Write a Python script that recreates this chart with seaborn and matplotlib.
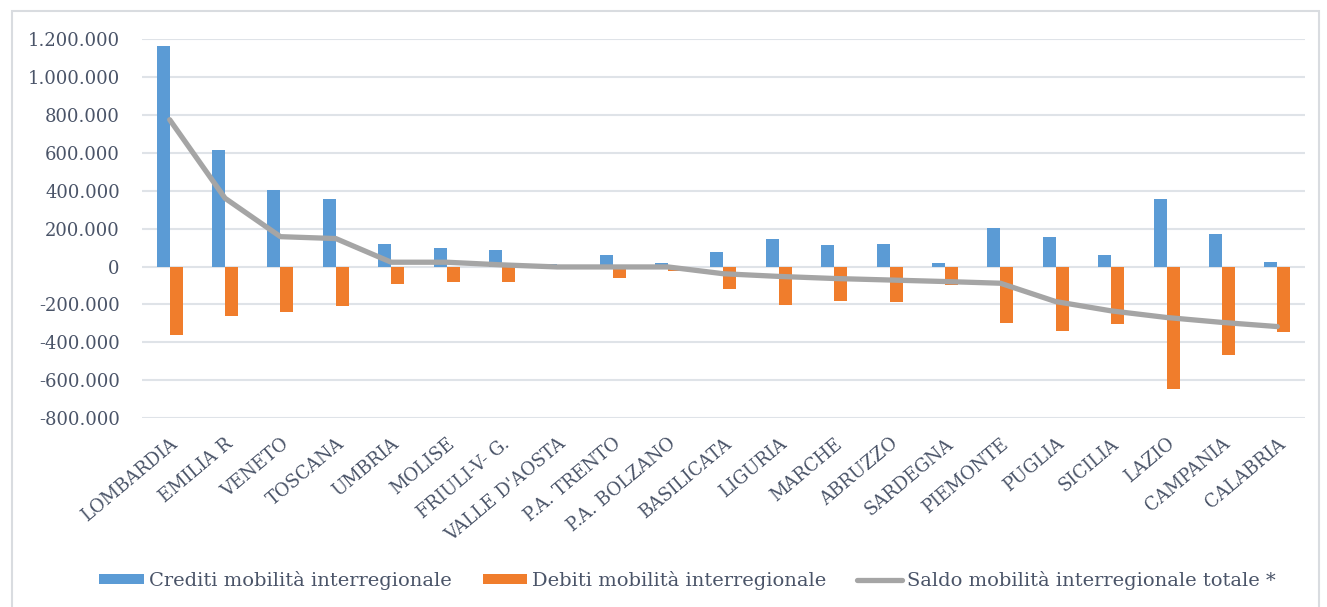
import numpy as np
import pandas as pd
import seaborn as sns
import matplotlib.pyplot as plt
from matplotlib.patches import Rectangle
from matplotlib.ticker import FuncFormatter

regioni = ['LOMBARDIA', 'EMILIA R', 'VENETO', 'TOSCANA', 'UMBRIA', 'MOLISE',
           'FRIULI-V- G.', "VALLE D'AOSTA", 'P.A. TRENTO', 'P.A. BOLZANO',
           'BASILICATA', 'LIGURIA', 'MARCHE', 'ABRUZZO', 'SARDEGNA', 'PIEMONTE',
           'PUGLIA', 'SICILIA', 'LAZIO', 'CAMPANIA', 'CALABRIA']
crediti = [1167000, 618000, 405000, 358000, 120000, 97000, 87000, 13000, 60000,
           20000, 78000, 148000, 113000, 118000, 20000, 206000, 158000, 60000,
           357000, 171000, 25000]
debiti = [-359000, -260000, -238000, -206000, -91000, -79000, -84000, -4000,
          -63000, -25000, -116000, -204000, -183000, -188000, -98000, -297000,
          -339000, -302000, -645000, -468000, -345000]
saldo = [776000, 361000, 158000, 148000, 23000, 23000, 9000, -2000, -2000,
         -2000, -38000, -52000, -63000, -71000, -79000, -88000, -185000,
         -234000, -269000, -295000, -317000]

lab_cred = 'Crediti mobilità interregionale'
lab_deb = 'Debiti mobilità interregionale'
lab_saldo = 'Saldo mobilità interregionale totale *'

df = pd.DataFrame({
    'regione': regioni * 2,
    'valore': crediti + debiti,
    'tipo': [lab_cred] * len(regioni) + [lab_deb] * len(regioni),
})

sns.set_style('white')
plt.rcParams['font.family'] = ['DejaVu Serif']
txt = '#4a5468'

fig = plt.figure(figsize=(13.27, 6.07), dpi=100)
ax = fig.add_axes([0.107, 0.3114, 0.8764, 0.6236])

sns.barplot(data=df, x='regione', y='valore', hue='tipo', ax=ax,
            palette=['#5b9bd5', '#f07d2c'], width=0.47, dodge=True,
            saturation=1, edgecolor='none', errorbar=None)
sns.lineplot(x=np.arange(len(regioni)), y=saldo, ax=ax, color='#a5a5a5',
             linewidth=3.8, label=lab_saldo, zorder=5)

ax.set_xlim(-0.5, len(regioni) - 0.5)
ax.set_ylim(-800000, 1200000)
ax.set_yticks(np.arange(-800000, 1200001, 200000))
ax.yaxis.set_major_formatter(FuncFormatter(lambda v, p: f'{int(v):,}'.replace(',', '.')))
ax.grid(axis='y', color='#dfe3e8', linewidth=1.5)
ax.set_axisbelow(True)
for s in ax.spines.values():
    s.set_visible(False)
ax.set_xlabel('')
ax.set_ylabel('')
ax.tick_params(axis='both', length=0, colors=txt)
ax.tick_params(axis='y', labelsize=13, pad=16)
ax.tick_params(axis='x', pad=12)
ax.set_xticks(range(len(regioni)))
ax.set_xticklabels(regioni, rotation=40, ha='right', rotation_mode='anchor',
                   fontsize=13, color=txt)

handles, labels = ax.get_legend_handles_labels()
ax.get_legend().remove()
fig.legend(handles, labels, loc='center', bbox_to_anchor=(0.518, 0.044),
           ncol=3, frameon=False, fontsize=14, handlelength=2.3,
           handleheight=0.41, columnspacing=1.6, handletextpad=0.25,
           labelcolor=txt)

fig.patches.append(Rectangle((0.009, -0.02), 0.985, 1.002, transform=fig.transFigure,
                             fill=False, edgecolor='#d9dce0', linewidth=1.5))

fig.savefig('out.png', dpi=100)
